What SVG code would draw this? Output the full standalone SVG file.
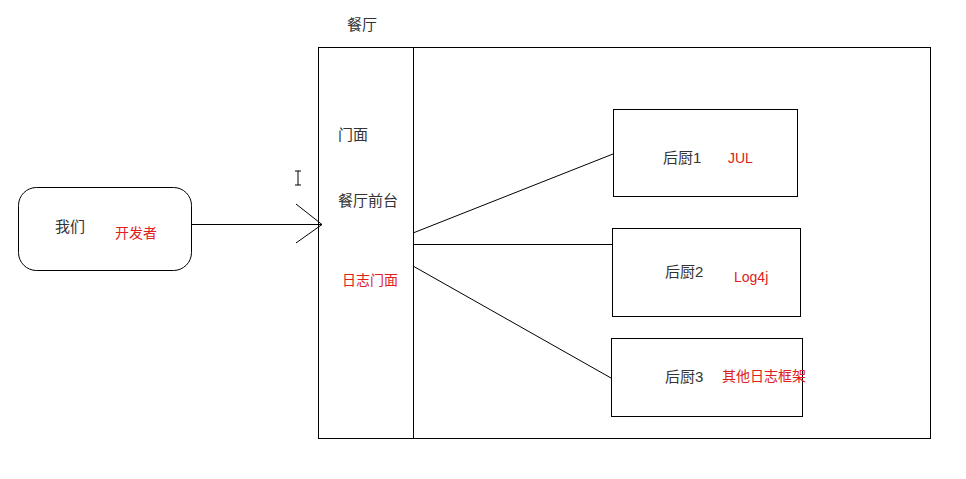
<svg xmlns="http://www.w3.org/2000/svg" width="966" height="479" viewBox="0 0 966 479">
<style>
.b{fill:none;stroke:#000;stroke-width:1}
.t{font-family:"Liberation Sans","Noto Sans CJK SC",sans-serif;font-size:15px;fill:#333}
.r{font-family:"Liberation Sans","Noto Sans CJK SC",sans-serif;font-size:14px;fill:#e02020}
</style>
<rect width="966" height="479" fill="#fff"/>
<text class="t" x="347" y="30">餐厅</text>
<g id="restaurant">
<rect class="b" x="318.5" y="47.5" width="612" height="391"/>
<line class="b" x1="413.5" y1="47" x2="413.5" y2="438"/>
<text class="t" x="338" y="140">门面</text>
<text class="t" x="338" y="206">餐厅前台</text>
<text class="r" x="342" y="285">日志门面</text>
</g>
<g id="us">
<rect class="b" x="18.5" y="187.5" width="173" height="83" rx="18"/>
<text class="t" x="55" y="232">我们</text>
<text class="r" x="115" y="238">开发者</text>
</g>
<g id="k1">
<rect class="b" x="613.5" y="109.5" width="184" height="87"/>
<text class="t" x="663" y="163">后厨1</text>
<text class="r" x="728" y="163">JUL</text>
</g>
<g id="k2">
<rect class="b" x="612.5" y="228.5" width="188" height="88"/>
<text class="t" x="665" y="277">后厨2</text>
<text class="r" x="734" y="282">Log4j</text>
</g>
<g id="k3">
<rect class="b" x="611.5" y="338.5" width="191" height="78"/>
<text class="t" x="665" y="382">后厨3</text>
<text class="r" x="722" y="381">其他日志框架</text>
</g>
<g id="connectors">
<line class="b" x1="191" y1="224.5" x2="322" y2="224.5"/>
<polyline class="b" points="296,204 322,224.5 296,243"/>
<line class="b" x1="413" y1="233" x2="613" y2="154"/>
<line class="b" x1="413" y1="244.5" x2="612" y2="244.5"/>
<line class="b" x1="413" y1="266" x2="611" y2="378"/>
</g>
<path class="b" d="M295 171h6M298 171v14M295 185h6" stroke="#333"/>
</svg>
